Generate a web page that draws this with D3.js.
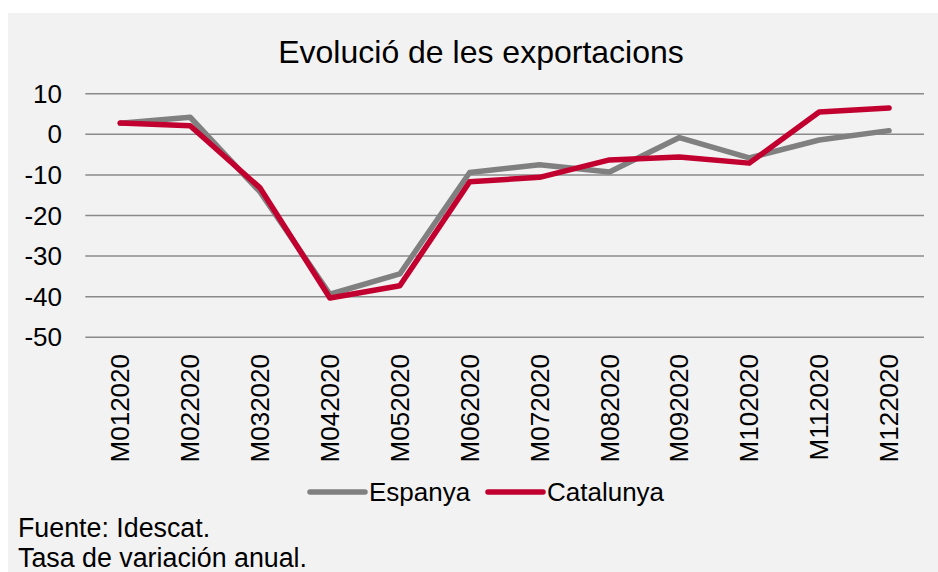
<!DOCTYPE html>
<html>
<head>
<meta charset="utf-8">
<script src="https://cdn.jsdelivr.net/npm/d3@7"></script>
<style>
  body { margin: 0; background: #fff; }
  svg { display: block; font-family: "Liberation Sans", Arial, sans-serif; }
</style>
</head>
<body>
<div id="chart"></div>
<script>
var months = ["M012020", "M022020", "M032020", "M042020", "M052020", "M062020",
              "M072020", "M082020", "M092020", "M102020", "M112020", "M122020"];
var espanya = [2.7, 4.2, -14.2, -39.4, -34.4, -9.4, -7.5, -9.3, -0.8, -5.8, -1.4, 0.9];
var catalunya = [2.8, 2.1, -13.2, -40.3, -37.3, -11.7, -10.6, -6.3, -5.6, -7.1, 5.5, 6.5];
var yTicks = [10, 0, -10, -20, -30, -40, -50];

var width = 938, height = 572;
var svg = d3.select("#chart").append("svg")
    .attr("width", width)
    .attr("height", height);

// panel background
svg.append("rect")
    .attr("x", 8).attr("y", 13)
    .attr("width", width - 8).attr("height", height - 13)
    .attr("fill", "#f2f2f2");

svg.append("text")
    .attr("x", 481).attr("y", 63)
    .attr("text-anchor", "middle")
    .attr("font-size", 32)
    .attr("fill", "#000")
    .text("Evolució de les exportacions");

var x = d3.scaleBand().domain(months).range([85.3, 924]);
var y = d3.scaleLinear().domain([-50, 10]).range([337.3, 93.7]);

// gridlines
svg.append("g")
    .selectAll("line")
    .data(yTicks)
    .enter().append("line")
    .attr("x1", 85.3).attr("x2", 924)
    .attr("y1", d => y(d)).attr("y2", d => y(d))
    .attr("stroke", "#8a8a8a")
    .attr("stroke-width", 1.5);

// y labels
svg.append("g")
    .selectAll("text")
    .data(yTicks)
    .enter().append("text")
    .attr("x", 62)
    .attr("y", d => y(d))
    .attr("dy", "0.35em")
    .attr("text-anchor", "end")
    .attr("font-size", 26)
    .text(d => d);

// x labels
svg.append("g")
    .selectAll("text")
    .data(months)
    .enter().append("text")
    .attr("transform", d => "translate(" + (x(d) + x.bandwidth() / 2) + ",354) rotate(-90)")
    .attr("dy", "0.35em")
    .attr("text-anchor", "end")
    .attr("font-size", 26)
    .text(d => d);

var line = d3.line()
    .x((d, i) => x(months[i]) + x.bandwidth() / 2)
    .y(d => y(d));

var series = [
    { name: "Espanya", values: espanya, color: "#808080" },
    { name: "Catalunya", values: catalunya, color: "#c2002f" }
];

series.forEach(function (s) {
    svg.append("path")
        .datum(s.values)
        .attr("d", line)
        .attr("fill", "none")
        .attr("stroke", s.color)
        .attr("stroke-width", 5.5)
        .attr("stroke-linejoin", "round")
        .attr("stroke-linecap", "round");
});

// legend
var legendX = [310, 488];
var legend = svg.append("g")
    .selectAll("g")
    .data(series)
    .enter().append("g")
    .attr("transform", (d, i) => "translate(" + legendX[i] + ",492)");
legend.append("line")
    .attr("x1", 0).attr("x2", 55)
    .attr("stroke", d => d.color)
    .attr("stroke-width", 5.5)
    .attr("stroke-linecap", "round");
legend.append("text")
    .attr("x", 59)
    .attr("dy", "0.35em")
    .attr("font-size", 26)
    .text(d => d.name);

// footer
svg.append("text")
    .attr("x", 18).attr("y", 537)
    .attr("font-size", 26.8)
    .text("Fuente: Idescat.");
svg.append("text")
    .attr("x", 18).attr("y", 567)
    .attr("font-size", 26.8)
    .text("Tasa de variación anual.");
</script>
</body>
</html>
